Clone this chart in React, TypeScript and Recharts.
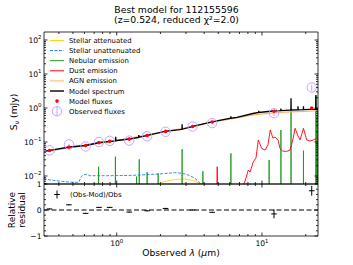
import React from "react";
import { ComposedChart, Line, Scatter, XAxis, YAxis, ErrorBar, ReferenceLine } from "recharts";

const FONT = "DejaVu Sans, sans-serif";
const GOLD = "#ffd700";
const SKY = "#1a7ff5";
const GREEN = "#1e9a1e";
const RED = "#ff000d";
const APRICOT = "#ffb16d";
const PURPLE = "#c9a0ff";

const X_DOMAIN: [number, number] = [0.316, 24.3];
const Y_DOMAIN: [number, number] = [0.00582, 171.8];
const RES_DOMAIN: [number, number] = [-1, 1];
const FLOOR = 1e-4;

// photometry (wavelength in µm, flux in mJy)
const filterLam = [0.345, 0.469, 0.611, 0.755, 0.895, 1.22, 1.62, 2.17, 3.33, 4.54, 12.1, 22.0];
const obsFlux = [0.057, 0.085, 0.074, 0.1, 0.108, 0.11, 0.148, 0.2, 0.285, 0.36, 0.7, 4.0];
const obsErr = [0.002, 0.003, 0.002, 0.003, 0.003, 0.003, 0.004, 0.005, 0.006, 0.008, 0.12, 0.8];
const modFlux = [0.0564, 0.0707, 0.0789, 0.096, 0.105, 0.1216, 0.156, 0.205, 0.286, 0.388, 0.8, 1.0];
const residual = [0.04, 0.2, -0.13, 0.1, 0.1, -0.08, -0.03, 0.06, 0.0, -0.09, -0.15, 0.74];
const residualErr = [0.02, 0.02, 0.02, 0.02, 0.02, 0.02, 0.02, 0.02, 0.02, 0.02, 0.17, 0.19];

// model spectrum
const modelLam = [
  0.314, 0.474, 0.611, 0.763, 0.983, 0.985, 0.987, 1.0, 1.23, 1.417, 1.42, 1.423, 1.61, 2.14, 2.72,
  2.815, 2.82, 2.825, 3.34, 4.52, 6.1, 6.11, 6.12, 6.73, 8.66, 9.48, 9.5, 9.52, 11.9, 13.47, 13.5,
  13.53, 15.6, 15.82, 15.85, 15.88, 17.67, 17.7, 17.73, 19.27, 19.3, 19.33, 23.45, 23.5, 23.55, 24.3,
];
const modelFlux = [
  0.0526, 0.0713, 0.0789, 0.0967, 0.108, 0.143, 0.108, 0.1107, 0.1225, 0.137, 0.16, 0.138, 0.155, 0.204, 0.23,
  0.236, 0.33, 0.237, 0.286, 0.388, 0.5, 0.57, 0.5, 0.532, 0.689, 0.74, 0.83, 0.74, 0.816, 0.84, 0.97,
  0.84, 0.87, 0.872, 1.95, 0.872, 0.885, 1.12, 0.885, 0.9, 1.12, 0.9, 0.92, 2.4, 0.92, 0.93,
];

const agnLam = [0.314, 0.6, 1.0, 2.14, 3.34, 4.52, 6.73, 8.66, 11.9, 15.6, 19.8, 24.3];
const agnFlux = [0.052, 0.078, 0.11, 0.203, 0.284, 0.384, 0.515, 0.63, 0.72, 0.77, 0.8, 0.83];

const attLam = [1.85, 1.92, 2.14, 2.51, 2.94, 3.34, 3.73, 3.95];
const attFlux = [0.003, 0.0056, 0.0069, 0.0079, 0.0082, 0.0074, 0.006, 0.004];

const unattLam = [0.314, 0.345, 0.405, 0.474, 0.547, 0.571, 0.585, 0.618, 0.652, 0.849, 1.23, 1.44, 1.98, 2.58, 3.02, 3.45, 3.84, 4.05];
const unattFlux = [0.0084, 0.0077, 0.0071, 0.0066, 0.0065, 0.0095, 0.0107, 0.0113, 0.0102, 0.0102, 0.0104, 0.0107, 0.0115, 0.0126, 0.0113, 0.0086, 0.0056, 0.003];

const nebLam = [0.751, 0.98, 1.37, 1.43, 1.62, 1.93, 2.82, 3.92, 6.11, 11.2, 13.5, 15.85, 19.3, 23.5, 23.8, 24.1];
const nebPeak = [0.0188, 0.037, 0.0096, 0.031, 0.0131, 0.0119, 0.0617, 0.0138, 0.0466, 0.0295, 0.225, 0.87, 0.0555, 2.3, 0.6, 1.0];

const dustLam = [
  4.87, 4.92, 4.97, 7.3, 7.43, 7.76, 8.05, 8.28, 8.71, 9.1, 9.43, 9.95, 10.5, 11.0, 11.4, 11.9,
  12.3, 12.9, 13.3, 13.9, 14.8, 15.6, 16.3, 16.9, 17.7, 18.3, 19.3, 20.3, 21.4, 22.6, 23.8, 24.3,
];
const dustFlux = [
  0.0001, 0.0188, 0.0001, 0.003, 0.0051, 0.0087, 0.015, 0.013, 0.026, 0.034, 0.115, 0.065, 0.058, 0.082, 0.225, 0.13,
  0.14, 0.115, 0.065, 0.054, 0.053, 0.058, 0.115, 0.253, 0.15, 0.115, 0.253, 0.115, 0.107, 0.115, 0.13, 0.128,
];

// axis ticks
const xMajor = [1, 10];
const xTicks = [0.4, 0.5, 0.6, 0.7, 0.8, 0.9, 1, 2, 3, 4, 5, 6, 7, 8, 9, 10, 20];
const yMajor = [0.01, 0.1, 1, 10, 100];
const yTicks = [0.001, 0.01, 0.1, 1, 10, 100]
  .flatMap((d) => [1, 2, 3, 4, 5, 6, 7, 8, 9].map((k) => k * d))
  .filter((v) => v >= Y_DOMAIN[0] && v <= Y_DOMAIN[1]);
const resMajor = [-1, 0, 1];
const resTicks = [-1, -0.8, -0.6, -0.4, -0.2, 0, 0.2, 0.4, 0.6, 0.8, 1];

const zip = (xs: number[], ys: number[]) => xs.map((x, i) => ({ x, y: ys[i] }));

const modelData = zip(modelLam, modelFlux);
const agnData = zip(agnLam, agnFlux);
const attData = zip(attLam, attFlux);
const unattData = zip(unattLam, unattFlux);
const dustData = zip(dustLam, dustFlux);
const nebData = nebLam.flatMap((l, i) => [
  { x: l, y: FLOOR },
  { x: l, y: nebPeak[i] },
  { x: l, y: FLOOR },
]);
const obsData = filterLam.map((x, i) => ({ x, y: obsFlux[i], err: obsErr[i] }));
const modData = zip(filterLam, modFlux);
const resData = filterLam.map((x, i) => ({ x, y: residual[i], err: residualErr[i] }));

const SPINE = { stroke: "#000", strokeWidth: 0.8 };

type Side = "bottom" | "top" | "left" | "right";

const powText = (v: number) => {
  const e = Math.round(Math.log10(v));
  return e < 0 ? `\u2212${-e}` : `${e}`;
};

const leftPow = (v: number, x: number, y: number) => (
  <text x={x - 2.5} y={y + 2.8} textAnchor="end" fontSize={7.6} fontFamily={FONT} fill="#000">
    10<tspan dy={-3.4} fontSize={5.4}>{powText(v)}</tspan>
  </text>
);

const bottomPow = (v: number, x: number, y: number) => (
  <text x={x} y={y + 10} textAnchor="middle" fontSize={7.6} fontFamily={FONT} fill="#000">
    10<tspan dy={-3.4} fontSize={5.4}>{powText(v)}</tspan>
  </text>
);

const leftLin = (v: number, x: number, y: number) => (
  <text x={x - 2.5} y={y + 2.8} textAnchor="end" fontSize={7.6} fontFamily={FONT} fill="#000">
    {v < 0 ? `\u2212${-v}` : `${v}`}
  </text>
);

// inward ticks like matplotlib (direction='in'), labels only on majors
function axisTick(side: Side, majors: number[], label?: (v: number, x: number, y: number) => React.ReactNode) {
  return (props: any) => {
    const { x, y, payload } = props;
    const v = payload.value;
    const major = majors.some((m) => Math.abs(m - v) <= Math.abs(m) * 1e-6 + 1e-9);
    const len = major ? 3.5 : 2;
    const dx = side === "left" ? len : side === "right" ? -len : 0;
    const dy = side === "bottom" ? -len : side === "top" ? len : 0;
    return (
      <g>
        <line x1={x} y1={y} x2={x + dx} y2={y + dy} stroke="#000" strokeWidth={0.8} />
        {major && label ? label(v, x, y) : null}
      </g>
    );
  };
}

const axisCommon = {
  type: "number" as const,
  allowDataOverflow: true,
  interval: 0 as const,
  tickLine: false,
  tickSize: 0,
  tickMargin: 0,
  axisLine: SPINE,
};

export default function App() {
  const lineCommon = { type: "linear" as const, dataKey: "y", dot: false, activeDot: false, isAnimationActive: false };
  return (
    <div style={{ position: "absolute", left: 0, top: 0, width: 353, height: 265, background: "#fff", overflow: "hidden" }}>
      <div style={{ position: "absolute", left: 0, top: 0 }}>
        <ComposedChart width={353} height={190} margin={{ top: 31, right: 34, bottom: 5, left: 43 }}>
          <XAxis {...axisCommon} dataKey="x" scale="log" domain={X_DOMAIN} ticks={xTicks} height={1} tick={axisTick("bottom", xMajor)} />
          <XAxis {...axisCommon} xAxisId="top" orientation="top" dataKey="x" scale="log" domain={X_DOMAIN} ticks={xTicks} height={1} tick={axisTick("top", xMajor)} />
          <YAxis {...axisCommon} dataKey="y" scale="log" domain={Y_DOMAIN} ticks={yTicks} width={1} tick={axisTick("left", yMajor, leftPow)} />
          <YAxis {...axisCommon} yAxisId="right" orientation="right" dataKey="y" scale="log" domain={Y_DOMAIN} ticks={yTicks} width={1} tick={axisTick("right", yMajor)} />
          <Line {...lineCommon} data={attData} stroke={GOLD} strokeWidth={0.9} />
          <Line {...lineCommon} data={unattData} stroke={SKY} strokeWidth={0.9} strokeDasharray="3 1.5" />
          <Line {...lineCommon} data={nebData} stroke={GREEN} strokeWidth={0.9} />
          <Line {...lineCommon} data={dustData} stroke={RED} strokeWidth={0.9} />
          <Line {...lineCommon} data={agnData} stroke={APRICOT} strokeWidth={1.2} />
          <Line {...lineCommon} data={modelData} stroke="#000" strokeWidth={1.3} />
          <Scatter
            data={obsData}
            isAnimationActive={false}
            shape={(p: any) => <circle cx={p.cx} cy={p.cy} r={4.7} fill="none" stroke={PURPLE} strokeWidth={1} />}
          >
            <ErrorBar dataKey="err" direction="y" width={0} stroke={PURPLE} strokeWidth={1} isAnimationActive={false} />
          </Scatter>
          <Scatter
            data={modData}
            isAnimationActive={false}
            shape={(p: any) => <circle cx={p.cx} cy={p.cy} r={1.8} fill={RED} stroke="none" />}
          />
        </ComposedChart>
      </div>
      <div style={{ position: "absolute", left: 0, top: 176 }}>
        <ComposedChart width={353} height={89} margin={{ top: 7, right: 34, bottom: 28, left: 43 }}>
          <XAxis {...axisCommon} dataKey="x" scale="log" domain={X_DOMAIN} ticks={xTicks} height={1} tick={axisTick("bottom", xMajor, bottomPow)} />
          <XAxis {...axisCommon} xAxisId="top" orientation="top" dataKey="x" scale="log" domain={X_DOMAIN} ticks={xTicks} height={1} tick={axisTick("top", xMajor)} />
          <YAxis {...axisCommon} dataKey="y" domain={RES_DOMAIN} ticks={resTicks} width={1} tick={axisTick("left", resMajor, leftLin)} />
          <YAxis {...axisCommon} yAxisId="right" orientation="right" dataKey="y" domain={RES_DOMAIN} ticks={resTicks} width={1} tick={axisTick("right", resMajor)} />
          <ReferenceLine y={0} stroke="#000" strokeWidth={1.1} strokeDasharray="5 2.5" />
          <Scatter
            data={resData}
            isAnimationActive={false}
            shape={(p: any) => <line x1={p.cx - 2.8} x2={p.cx + 2.8} y1={p.cy} y2={p.cy} stroke="#000" strokeWidth={1} />}
          >
            <ErrorBar dataKey="err" direction="y" width={0} stroke="#000" strokeWidth={1} isAnimationActive={false} />
          </Scatter>
        </ComposedChart>
      </div>
      <svg width={353} height={265} style={{ position: "absolute", left: 0, top: 0, pointerEvents: "none" }} fontFamily={FONT}>
        <text x={176.5} y={12.5} textAnchor="middle" fontSize={9.3}>Best model for 112155596</text>
        <text x={176.5} y={22.5} textAnchor="middle" fontSize={9.3}>(z=0.524, reduced χ²=2.0)</text>

        <text transform="translate(17,112) rotate(-90)" textAnchor="middle" fontSize={9.2}>
          S<tspan dy={2} fontSize={6.5}>ν</tspan><tspan dy={-2}> (mJy)</tspan>
        </text>
        <text transform="translate(15.3,210) rotate(-90)" textAnchor="middle" fontSize={9}>Relative</text>
        <text transform="translate(25,210) rotate(-90)" textAnchor="middle" fontSize={9}>residual</text>
        <text x={181} y={255.5} textAnchor="middle" fontSize={9.2}>
          Observed <tspan fontStyle="italic">λ</tspan> (<tspan fontStyle="italic">μ</tspan>m)
        </text>

        {/* legend, top panel */}
        <g fontSize={6.9}>
          <line x1={50} x2={64} y1={40.5} y2={40.5} stroke={GOLD} strokeWidth={1} />
          <text x={69} y={43}>Stellar attenuated</text>
          <line x1={50} x2={64} y1={50.6} y2={50.6} stroke={SKY} strokeWidth={1} strokeDasharray="3 1.5" />
          <text x={69} y={53.1}>Stellar unattenuated</text>
          <line x1={50} x2={64} y1={60.7} y2={60.7} stroke={GREEN} strokeWidth={1} />
          <text x={69} y={63.2}>Nebular emission</text>
          <line x1={50} x2={64} y1={70.8} y2={70.8} stroke={RED} strokeWidth={1} />
          <text x={69} y={73.3}>Dust emission</text>
          <line x1={50} x2={64} y1={80.9} y2={80.9} stroke={APRICOT} strokeWidth={1} />
          <text x={69} y={83.4}>AGN emission</text>
          <line x1={50} x2={64} y1={91} y2={91} stroke="#000" strokeWidth={1.4} />
          <text x={69} y={93.5}>Model spectrum</text>
          <circle cx={57} cy={101.1} r={1.8} fill={RED} />
          <text x={69} y={103.6}>Model fluxes</text>
          <circle cx={57} cy={111.2} r={4.7} fill="none" stroke={PURPLE} strokeWidth={1} />
          <line x1={57} x2={57} y1={107} y2={115.4} stroke={PURPLE} strokeWidth={1} />
          <text x={69} y={113.7}>Observed fluxes</text>
        </g>

        {/* legend, residual panel */}
        <g fontSize={6.9}>
          <line x1={54.2} x2={59.8} y1={194.5} y2={194.5} stroke="#000" strokeWidth={1} />
          <line x1={57} x2={57} y1={190.5} y2={198.5} stroke="#000" strokeWidth={1} />
          <text x={70} y={197}>(Obs-Mod)/Obs</text>
        </g>
      </svg>
    </div>
  );
}
